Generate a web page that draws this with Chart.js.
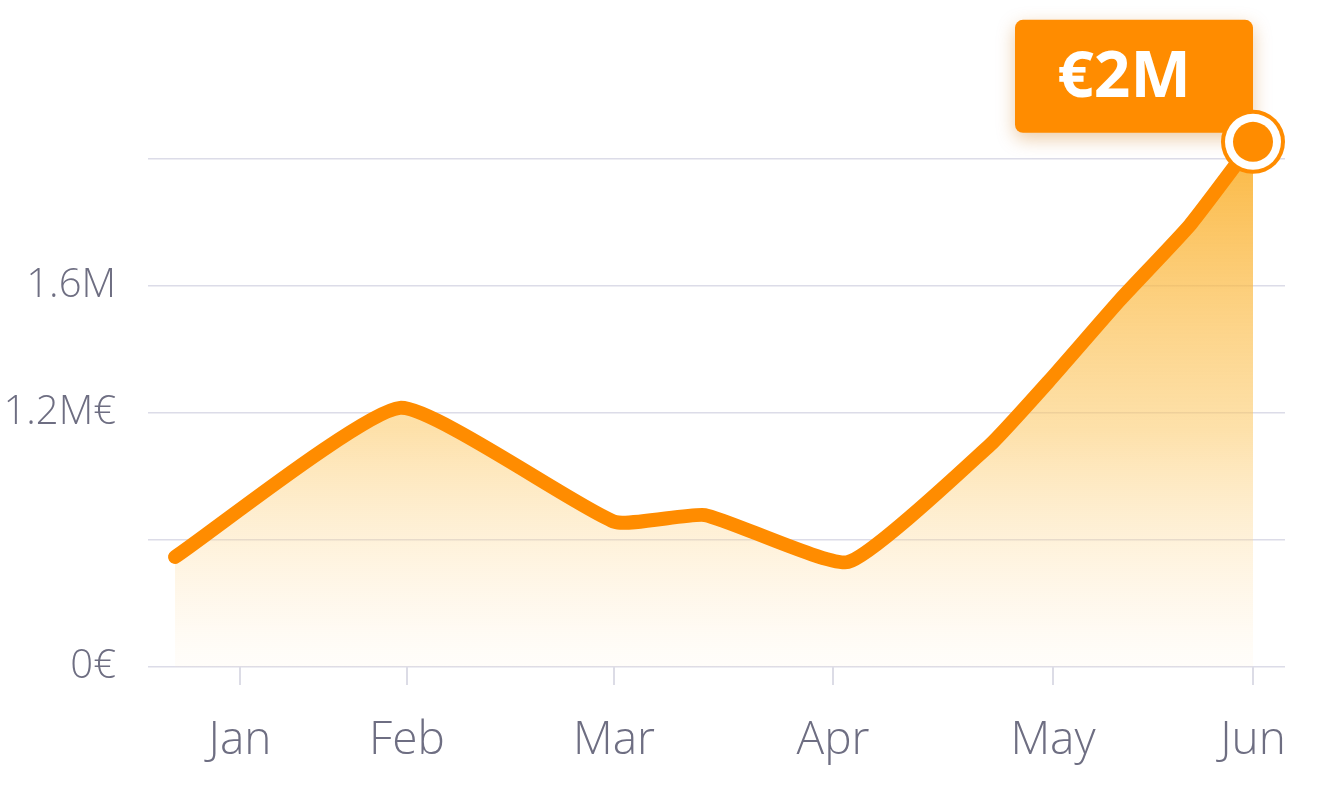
<!DOCTYPE html>
<html>
<head>
<meta charset="utf-8">
<script src="https://cdn.jsdelivr.net/npm/chart.js@4"></script>
<style>
  html, body { margin: 0; padding: 0; background: #ffffff; }
  #wrap { width: 1323px; height: 792px; }
</style>
</head>
<body>
<div id="wrap"><canvas id="chart" width="1323" height="792"></canvas></div>
<script>
// x positions are on a continuous month axis (ticks are not evenly spaced in the original)
const monthLabels = ['Jan', 'Feb', 'Mar', 'Apr', 'May', 'Jun'];
const monthTicks = [240, 407, 614, 833, 1053, 1253];
const pointX = [175, 400, 615, 705, 848, 990, 1050, 1120, 1190, 1253];
const pointY = [0.433, 1.02, 0.571, 0.598, 0.413, 0.874, 1.13, 1.445, 1.74, 2.067]; // units of 0.5 grid steps
const yTicks = [0, 0.5, 1, 1.5, 2];
const yTickLabels = ['0€', '', '1.2M€', '1.6M', ''];
const peakLabel = '€2M';

const ctx = document.getElementById('chart').getContext('2d');

const calloutPlugin = {
  id: 'callout',
  afterDatasetsDraw(chart) {
    const c = chart.ctx;
    const meta = chart.getDatasetMeta(0);
    const pt = meta.data[meta.data.length - 1];
    const w = 238, h = 113;
    const x = pt.x - w, y = pt.y - 122;
    c.save();
    c.shadowColor = 'rgba(200,110,0,0.35)';
    c.shadowBlur = 18;
    c.shadowOffsetY = 6;
    c.fillStyle = '#ff8c00';
    c.beginPath();
    c.roundRect(x, y, w, h, 8);
    c.fill();
    c.shadowColor = 'transparent';
    c.fillStyle = '#ffffff';
    c.font = 'bold 64px "Open Sans"';
    c.textAlign = 'center';
    c.textBaseline = 'middle';
    c.fillText(peakLabel, x + w / 2 - 10, y + h / 2 + 2);
    // peak point on top
    c.beginPath();
    c.arc(pt.x, pt.y, 32, 0, Math.PI * 2);
    c.fillStyle = '#ff8c00';
    c.fill();
    c.beginPath();
    c.arc(pt.x, pt.y, 28, 0, Math.PI * 2);
    c.fillStyle = '#ffffff';
    c.fill();
    c.beginPath();
    c.arc(pt.x, pt.y, 20, 0, Math.PI * 2);
    c.fillStyle = '#ff8c00';
    c.fill();
    c.restore();
  }
};

new Chart(ctx, {
  type: 'line',
  data: {
    datasets: [{
      data: pointX.map((x, i) => ({ x: x, y: pointY[i] })),
      borderColor: '#ff8c00',
      borderWidth: 14,
      borderCapStyle: 'round',
      borderJoinStyle: 'round',
      tension: 0.15,
      pointRadius: 0,
      fill: 'origin',
      backgroundColor: (context) => {
        const area = context.chart.chartArea;
        if (!area) return 'rgba(255,170,40,0.5)';
        const g = context.chart.ctx.createLinearGradient(0, 140, 0, area.bottom);
        g.addColorStop(0, 'rgba(250,170,30,0.85)');
        g.addColorStop(0.55, 'rgba(252,200,100,0.55)');
        g.addColorStop(1, 'rgba(255,230,190,0.08)');
        return g;
      }
    }]
  },
  options: {
    responsive: false,
    animation: false,
    layout: { padding: { top: 20, right: 38, left: 0, bottom: 0 } },
    plugins: { legend: { display: false }, tooltip: { enabled: false } },
    scales: {
      x: {
        type: 'linear',
        min: 148,
        max: 1285,
        afterBuildTicks: (axis) => { axis.ticks = monthTicks.map(v => ({ value: v })); },
        afterFit: (axis) => { axis.height = 125; },
        grid: { display: true, drawOnChartArea: false, drawTicks: true, tickLength: 18, color: '#dcdce6', lineWidth: 2 },
        border: { display: false },
        ticks: {
          autoSkip: false,
          maxRotation: 0,
          padding: 28,
          color: '#6e6e82',
          font: { family: 'Open Sans', size: 46, weight: '300' },
          callback: (v) => monthLabels[monthTicks.indexOf(v)]
        }
      },
      y: {
        min: 0,
        max: 2.405,
        afterBuildTicks: (axis) => { axis.ticks = yTicks.map(v => ({ value: v })); },
        afterFit: (axis) => { axis.width = 148; },
        grid: { color: '#dcdce8', lineWidth: 1.5, drawTicks: false },
        border: { display: false },
        ticks: {
          padding: 32,
          color: '#6e6e82',
          font: { family: 'Open Sans', size: 40, weight: '300' },
          callback: (v) => yTickLabels[yTicks.indexOf(v)]
        }
      }
    }
  },
  plugins: [calloutPlugin]
});
</script>
</body>
</html>
